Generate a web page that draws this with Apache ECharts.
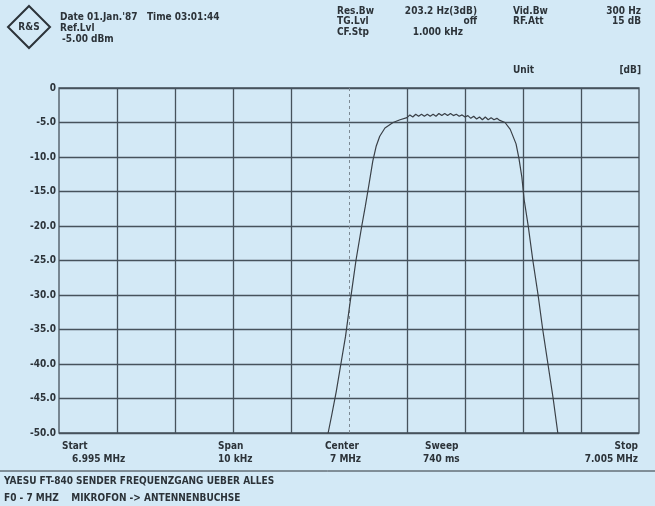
<!DOCTYPE html>
<html>
<head>
<meta charset="utf-8">
<script src="https://cdn.jsdelivr.net/npm/echarts@6/dist/echarts.min.js"></script>
<style>
  html, body { margin: 0; padding: 0; background: #d3e9f6; }
  #chart { width: 655px; height: 506px; }
</style>
</head>
<body>
<div id="chart"></div>
<script>
// Messkurve: Abstand von 7 MHz in kHz, Pegel in dB
const offsetKHz = [
  -0.36, -0.30, -0.22, -0.14, -0.06, 0.02, 0.12, 0.22, 0.28, 0.34,
  0.41, 0.47, 0.53, 0.62, 0.76, 0.88, 1.00,
  1.05, 1.10, 1.15, 1.20, 1.25, 1.30, 1.35, 1.40, 1.45, 1.50,
  1.55, 1.60, 1.65, 1.70, 1.75, 1.80, 1.85, 1.90, 1.95, 2.00,
  2.05, 2.10, 2.15, 2.20, 2.25, 2.30, 2.35, 2.40, 2.45, 2.50,
  2.55, 2.60, 2.69, 2.78, 2.88, 2.93, 2.98, 3.02, 3.09, 3.17,
  3.26, 3.34, 3.43, 3.52, 3.60
];
const levelDb = [
  -50, -47.5, -44, -40, -36, -31, -25, -20, -17.2, -14.2,
  -10.6, -8.4, -7.0, -5.8, -5.0, -4.6, -4.3,
  -3.9, -4.2, -3.8, -4.1, -3.8, -4.1, -3.8, -4.1, -3.8, -4.1,
  -3.7, -4.0, -3.7, -4.0, -3.7, -4.0, -3.8, -4.1, -3.9, -4.2,
  -4.0, -4.4, -4.1, -4.5, -4.2, -4.6, -4.2, -4.6, -4.3, -4.6,
  -4.4, -4.7, -5.0, -6.0, -8.1, -10.2, -12.9, -16.2, -20, -25,
  -30, -35, -40, -45, -50
];
// senkrechte Rasterlinien (kHz), Mitte gestrichelt
const gridKHz = [-4, -3, -2, -1, 1, 2, 3, 4];
const centerKHz = 0;

const headLeft = ["Date 01.Jan.'87   Time 03:01:44", 'Ref.Lvl', '-5.00 dBm'];
const headRight = [
  ['Res.Bw', '203.2 Hz(3dB)', 'Vid.Bw', '300 Hz'],
  ['TG.Lvl', 'off', 'RF.Att', '15 dB'],
  ['CF.Stp', '1.000 kHz', '', '']
];
const footer = [
  ['Start', '6.995 MHz'], ['Span', '10 kHz'], ['Center', '7 MHz'],
  ['Sweep', '740 ms'], ['Stop', '7.005 MHz']
];
const notes = ['YAESU FT-840 SENDER FREQUENZGANG UEBER ALLES', 'F0 - 7 MHZ    MIKROFON -> ANTENNENBUCHSE'];

const FONT = '"DejaVu Sans Condensed", "DejaVu Sans", sans-serif';
const INK = '#2c3339';
const GRID = '#46525c';

function txt(x, y, s, align) {
  return {
    type: 'text', x: x, y: y,
    style: { text: s, fill: INK, font: 'bold 10px ' + FONT, textAlign: align || 'left', textVerticalAlign: 'middle' }
  };
}

const graphics = [];
// Logo
graphics.push({
  type: 'polygon',
  shape: { points: [[29, 6], [50, 27], [29, 48], [8, 27]] },
  style: { fill: 'none', stroke: INK, lineWidth: 2 }
});
graphics.push({
  type: 'text', x: 29, y: 27,
  style: { text: 'R&S', fill: INK, font: 'bold 10px ' + FONT, textAlign: 'center', textVerticalAlign: 'middle' }
});
headLeft.forEach((s, i) => graphics.push(txt(i === 2 ? 62 : 60, 17 + i * 11, s)));
headRight.forEach((row, i) => {
  const y = 11 + i * 10.5;
  graphics.push(txt(337, y, row[0]));
  graphics.push(txt(i === 2 ? 463 : 477, y, row[1], 'right'));
  graphics.push(txt(513, y, row[2]));
  graphics.push(txt(641, y, row[3], 'right'));
});
graphics.push(txt(513, 70, 'Unit'));
graphics.push(txt(641, 70, '[dB]', 'right'));

const footX = [62, 218, 325, 425, 638];
const footX2 = [72, 218, 330, 423, 638];
footer.forEach((f, i) => {
  const align = i === 4 ? 'right' : 'left';
  graphics.push(txt(footX[i], 446, f[0], align));
  graphics.push(txt(footX2[i], 459, f[1], align));
});
graphics.push({ type: 'line', shape: { x1: 0, y1: 471, x2: 655, y2: 471 }, style: { stroke: INK, lineWidth: 1 } });
notes.forEach((s, i) => graphics.push(txt(4, 481 + i * 17, s)));

const chart = echarts.init(document.getElementById('chart'));
chart.setOption({
  backgroundColor: '#d3e9f6',
  animation: false,
  grid: { left: 59, right: 16, top: 88, bottom: 73, show: true, borderColor: GRID, borderWidth: 1.3 },
  xAxis: {
    type: 'value', min: -5, max: 5, interval: 1,
    axisLine: { show: false }, axisTick: { show: false }, axisLabel: { show: false },
    splitLine: { show: false }
  },
  yAxis: {
    type: 'value', min: -50, max: 0, interval: 5,
    axisLine: { show: false }, axisTick: { show: false },
    axisLabel: {
      color: INK, fontFamily: FONT, fontWeight: 'bold', fontSize: 10, margin: 3,
      formatter: v => (v === 0 ? '0' : v.toFixed(1))
    },
    splitLine: { show: true, lineStyle: { color: GRID, width: 1.3 } }
  },
  graphic: graphics,
  series: [{
    type: 'line',
    data: offsetKHz.map((f, i) => [f, levelDb[i]]),
    showSymbol: false,
    lineStyle: { color: '#3a4047', width: 1.2 },
    z: 5,
    markLine: {
      silent: true, symbol: 'none', label: { show: false },
      data: gridKHz.map(k => ({ xAxis: k, lineStyle: { type: 'solid', color: GRID, width: 1.3 } }))
        .concat([{ xAxis: centerKHz, lineStyle: { type: [3, 3], color: '#7d8a94', width: 1 } }])
    }
  }]
});
</script>
</body>
</html>
